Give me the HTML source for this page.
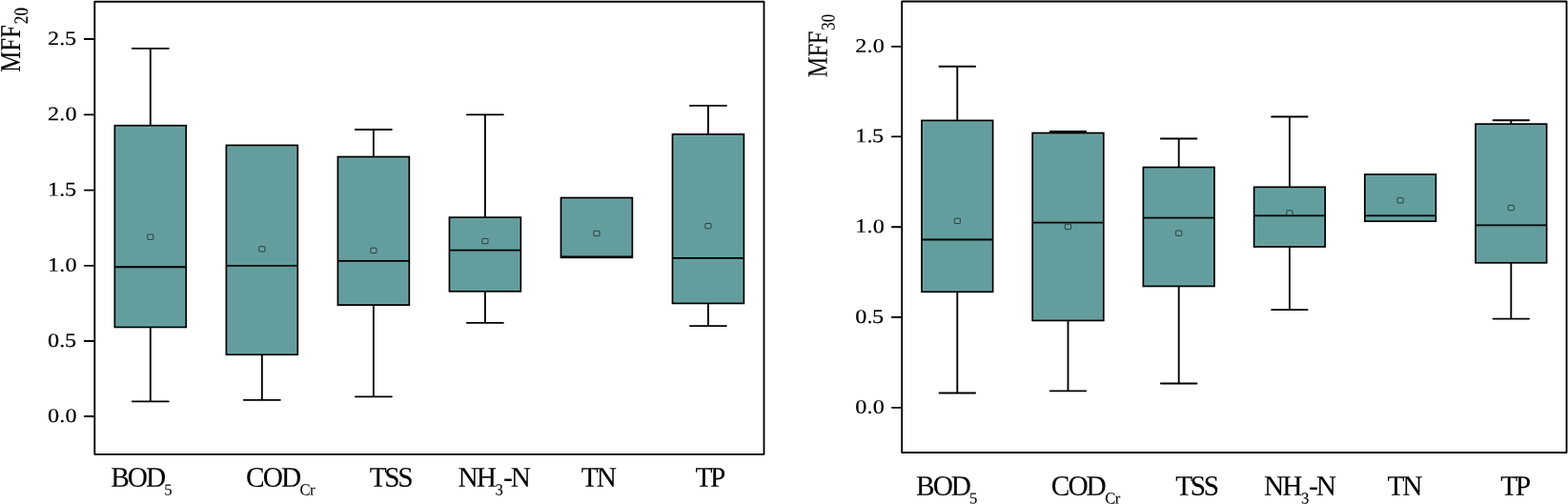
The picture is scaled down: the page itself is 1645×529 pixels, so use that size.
<!DOCTYPE html>
<html lang="en">
<head>
<meta charset="utf-8">
<title>MFF20 and MFF30 box plots</title>
<style>
html,body{margin:0;padding:0;background:#fff;overflow:hidden}
svg{display:block}
text{font-family:"Liberation Serif","DejaVu Serif",serif;fill:#000;stroke:#000}
.t{stroke-width:0.2px}
.l{stroke-width:0.1px}
</style>
</head>
<body>
<svg width="1645" height="529" viewBox="0 0 1645 529">
<rect width="1645" height="529" fill="#fff"/>
<rect x="99.3" y="1.7" width="702.2" height="475.1" fill="none" stroke="#000" stroke-width="1.85" stroke-linejoin="round"/>
<line x1="88.7" y1="41" x2="99.3" y2="41" stroke="#000" stroke-width="1.85" stroke-linecap="round"/>
<text class="t" transform="translate(51.07 46.9) rotate(0.1) scale(1.17 1)" x="-0.91 9.64 14.39" y="0" font-size="20.7">2.5</text>
<line x1="88.7" y1="120.4" x2="99.3" y2="120.4" stroke="#000" stroke-width="1.85" stroke-linecap="round"/>
<text class="t" transform="translate(51.04 126.3) rotate(0.1) scale(1.17 1)" x="-0.91 9.64 15.02" y="0" font-size="20.7">2.0</text>
<line x1="88.7" y1="199.6" x2="99.3" y2="199.6" stroke="#000" stroke-width="1.85" stroke-linecap="round"/>
<text class="t" transform="translate(52.13 205.5) rotate(0.1) scale(1.17 1)" x="-1.82 8.73 13.48" y="0" font-size="20.7">1.5</text>
<line x1="88.7" y1="278.8" x2="99.3" y2="278.8" stroke="#000" stroke-width="1.85" stroke-linecap="round"/>
<text class="t" transform="translate(52.11 284.7) rotate(0.1) scale(1.17 1)" x="-1.82 8.73 14.11" y="0" font-size="20.7">1.0</text>
<line x1="88.7" y1="358" x2="99.3" y2="358" stroke="#000" stroke-width="1.85" stroke-linecap="round"/>
<text class="t" transform="translate(50.93 363.9) rotate(0.1) scale(1.17 1)" x="-0.79 9.76 14.52" y="0" font-size="20.7">0.5</text>
<line x1="88.7" y1="437" x2="99.3" y2="437" stroke="#000" stroke-width="1.85" stroke-linecap="round"/>
<text class="t" transform="translate(50.9 442.9) rotate(0.1) scale(1.17 1)" x="-0.79 9.76 15.14" y="0" font-size="20.7">0.0</text>
<path d="M157.81 131.8V50.8M138.81 50.8H176.81" stroke="#000" stroke-width="1.85" stroke-linecap="round" fill="none"/>
<path d="M157.81 343.4V421.3M138.81 421.3H176.81" stroke="#000" stroke-width="1.85" stroke-linecap="round" fill="none"/>
<rect x="120.41" y="131.8" width="74.8" height="211.6" fill="#649d9d" stroke="#000" stroke-width="1.8"/>
<rect x="121.81" y="133.2" width="72" height="208.8" fill="none" stroke="#9fe0e0" stroke-opacity="0.22" stroke-width="1"/>
<line x1="120.41" y1="280.25" x2="195.22" y2="280.25" stroke="#000" stroke-width="1.8"/>
<rect x="154.76" y="246.05" width="6.1" height="5.3" rx="0.7" fill="#fff" fill-opacity="0.05" stroke="#0a1c1c" stroke-opacity="0.85" stroke-width="0.85"/>
<path d="M274.85 372.2V419.8M255.85 419.8H293.85" stroke="#000" stroke-width="1.85" stroke-linecap="round" fill="none"/>
<rect x="237.45" y="152.5" width="74.8" height="219.7" fill="#649d9d" stroke="#000" stroke-width="1.8"/>
<rect x="238.85" y="153.9" width="72" height="216.9" fill="none" stroke="#9fe0e0" stroke-opacity="0.22" stroke-width="1"/>
<line x1="237.45" y1="278.8" x2="312.25" y2="278.8" stroke="#000" stroke-width="1.8"/>
<rect x="271.8" y="258.75" width="6.1" height="5.3" rx="0.7" fill="#fff" fill-opacity="0.05" stroke="#0a1c1c" stroke-opacity="0.85" stroke-width="0.85"/>
<path d="M391.88 164.6V136M372.88 136H410.88" stroke="#000" stroke-width="1.85" stroke-linecap="round" fill="none"/>
<path d="M391.88 320.1V416.3M372.88 416.3H410.88" stroke="#000" stroke-width="1.85" stroke-linecap="round" fill="none"/>
<rect x="354.48" y="164.6" width="74.8" height="155.5" fill="#649d9d" stroke="#000" stroke-width="1.8"/>
<rect x="355.88" y="166" width="72" height="152.7" fill="none" stroke="#9fe0e0" stroke-opacity="0.22" stroke-width="1"/>
<line x1="354.48" y1="273.8" x2="429.27" y2="273.8" stroke="#000" stroke-width="1.8"/>
<rect x="388.82" y="260.25" width="6.1" height="5.3" rx="0.7" fill="#fff" fill-opacity="0.05" stroke="#0a1c1c" stroke-opacity="0.85" stroke-width="0.85"/>
<path d="M508.91 228.2V120.4M489.91 120.4H527.9" stroke="#000" stroke-width="1.85" stroke-linecap="round" fill="none"/>
<path d="M508.91 305.8V338.9M489.91 338.9H527.9" stroke="#000" stroke-width="1.85" stroke-linecap="round" fill="none"/>
<rect x="471.51" y="228.2" width="74.8" height="77.6" fill="#649d9d" stroke="#000" stroke-width="1.8"/>
<rect x="472.91" y="229.6" width="72" height="74.8" fill="none" stroke="#9fe0e0" stroke-opacity="0.22" stroke-width="1"/>
<line x1="471.51" y1="262.6" x2="546.31" y2="262.6" stroke="#000" stroke-width="1.8"/>
<rect x="505.86" y="250.45" width="6.1" height="5.3" rx="0.7" fill="#fff" fill-opacity="0.05" stroke="#0a1c1c" stroke-opacity="0.85" stroke-width="0.85"/>
<rect x="588.53" y="207.6" width="74.8" height="62.7" fill="#649d9d" stroke="#000" stroke-width="1.8"/>
<rect x="589.93" y="209" width="72" height="59.9" fill="none" stroke="#9fe0e0" stroke-opacity="0.22" stroke-width="1"/>
<line x1="588.53" y1="269.3" x2="663.33" y2="269.3" stroke="#000" stroke-width="1.8"/>
<rect x="622.88" y="242.35" width="6.1" height="5.3" rx="0.7" fill="#fff" fill-opacity="0.05" stroke="#0a1c1c" stroke-opacity="0.85" stroke-width="0.85"/>
<path d="M742.96 141V110.9M723.96 110.9H761.96" stroke="#000" stroke-width="1.85" stroke-linecap="round" fill="none"/>
<path d="M742.96 318.4V342.1M723.96 342.1H761.96" stroke="#000" stroke-width="1.85" stroke-linecap="round" fill="none"/>
<rect x="705.56" y="141" width="74.8" height="177.4" fill="#649d9d" stroke="#000" stroke-width="1.8"/>
<rect x="706.96" y="142.4" width="72" height="174.6" fill="none" stroke="#9fe0e0" stroke-opacity="0.22" stroke-width="1"/>
<line x1="705.56" y1="270.8" x2="780.36" y2="270.8" stroke="#000" stroke-width="1.8"/>
<rect x="739.91" y="234.55" width="6.1" height="5.3" rx="0.7" fill="#fff" fill-opacity="0.05" stroke="#0a1c1c" stroke-opacity="0.85" stroke-width="0.85"/>
<text class="l" transform="translate(117 510.7) rotate(0.1) scale(0.992 1.005)"><tspan x="-0.85 16.89 36.27" y="0" font-size="29.6">BOD</tspan><tspan x="55.68" y="8.76" font-size="16.8">5</tspan></text>
<text class="l" transform="translate(259.3 510.7) rotate(0.1) scale(0.992 1.005)"><tspan x="-1.21 16.53 35.91" y="0" font-size="29.6">COD</tspan><tspan x="55.61 66.21" y="8.76" font-size="16.8">Cr</tspan></text>
<text class="l" transform="translate(388.2 510.7) rotate(0.1) scale(0.992 1.005)"><tspan x="-0.53 15.25 29.41" y="0" font-size="29.6">TSS</tspan></text>
<text class="l" transform="translate(481.3 510.7) rotate(0.1) scale(0.992 1.005)"><tspan x="-0.85 18.52" y="0" font-size="29.6">NH</tspan><tspan x="38.43" y="8.76" font-size="16.8">3</tspan><tspan x="46.99 54.84" y="0" font-size="29.6">-N</tspan></text>
<text class="l" transform="translate(610.3 510.7) rotate(0.1) scale(0.992 1.005)"><tspan x="-0.53 15.55" y="0" font-size="29.6">TN</tspan></text>
<text class="l" transform="translate(730 510.7) rotate(0.1) scale(0.992 1.005)"><tspan x="-0.53 15.05" y="0" font-size="29.6">TP</tspan></text>
<text class="l" transform="translate(21 75) rotate(-90) translate(0 0) rotate(0.1) scale(0.838 1.02)"><tspan x="-0.85 25.47 41.93" y="0" font-size="29.6">MFF</tspan><tspan x="59.53 69.73" y="7.75" font-size="20.4">20</tspan></text>
<rect x="946.2" y="1.5" width="697.3" height="473.5" fill="none" stroke="#000" stroke-width="1.85" stroke-linejoin="round"/>
<line x1="935.9" y1="48.9" x2="946.2" y2="48.9" stroke="#000" stroke-width="1.85" stroke-linecap="round"/>
<text class="t" transform="translate(898.24 54.8) rotate(0.1) scale(1.17 1)" x="-0.91 9.64 15.02" y="0" font-size="20.7">2.0</text>
<line x1="935.9" y1="143.4" x2="946.2" y2="143.4" stroke="#000" stroke-width="1.85" stroke-linecap="round"/>
<text class="t" transform="translate(899.33 149.3) rotate(0.1) scale(1.17 1)" x="-1.82 8.73 13.48" y="0" font-size="20.7">1.5</text>
<line x1="935.9" y1="238.2" x2="946.2" y2="238.2" stroke="#000" stroke-width="1.85" stroke-linecap="round"/>
<text class="t" transform="translate(899.31 244.1) rotate(0.1) scale(1.17 1)" x="-1.82 8.73 14.11" y="0" font-size="20.7">1.0</text>
<line x1="935.9" y1="333" x2="946.2" y2="333" stroke="#000" stroke-width="1.85" stroke-linecap="round"/>
<text class="t" transform="translate(898.13 338.9) rotate(0.1) scale(1.17 1)" x="-0.79 9.76 14.52" y="0" font-size="20.7">0.5</text>
<line x1="935.9" y1="427.8" x2="946.2" y2="427.8" stroke="#000" stroke-width="1.85" stroke-linecap="round"/>
<text class="t" transform="translate(898.1 433.7) rotate(0.1) scale(1.17 1)" x="-0.79 9.76 15.14" y="0" font-size="20.7">0.0</text>
<path d="M1004.3 126.5V69.7M985.5 69.7H1023.1" stroke="#000" stroke-width="1.85" stroke-linecap="round" fill="none"/>
<path d="M1004.3 306.3V412.5M985.5 412.5H1023.1" stroke="#000" stroke-width="1.85" stroke-linecap="round" fill="none"/>
<rect x="967.05" y="126.5" width="74.5" height="179.8" fill="#649d9d" stroke="#000" stroke-width="1.8"/>
<rect x="968.45" y="127.9" width="71.7" height="177" fill="none" stroke="#9fe0e0" stroke-opacity="0.22" stroke-width="1"/>
<line x1="967.05" y1="251.5" x2="1041.55" y2="251.5" stroke="#000" stroke-width="1.8"/>
<rect x="1001.25" y="229.25" width="6.1" height="5.3" rx="0.7" fill="#fff" fill-opacity="0.05" stroke="#0a1c1c" stroke-opacity="0.85" stroke-width="0.85"/>
<path d="M1120.5 139.6V138M1101.7 138H1139.3" stroke="#000" stroke-width="1.85" stroke-linecap="round" fill="none"/>
<path d="M1120.5 336.4V410.3M1101.7 410.3H1139.3" stroke="#000" stroke-width="1.85" stroke-linecap="round" fill="none"/>
<rect x="1083.25" y="139.6" width="74.5" height="196.8" fill="#649d9d" stroke="#000" stroke-width="1.8"/>
<rect x="1084.65" y="141" width="71.7" height="194" fill="none" stroke="#9fe0e0" stroke-opacity="0.22" stroke-width="1"/>
<line x1="1083.25" y1="233.7" x2="1157.75" y2="233.7" stroke="#000" stroke-width="1.8"/>
<rect x="1117.45" y="235.25" width="6.1" height="5.3" rx="0.7" fill="#fff" fill-opacity="0.05" stroke="#0a1c1c" stroke-opacity="0.85" stroke-width="0.85"/>
<path d="M1236.7 175.6V145.5M1217.9 145.5H1255.5" stroke="#000" stroke-width="1.85" stroke-linecap="round" fill="none"/>
<path d="M1236.7 300.4V402.5M1217.9 402.5H1255.5" stroke="#000" stroke-width="1.85" stroke-linecap="round" fill="none"/>
<rect x="1199.45" y="175.6" width="74.5" height="124.8" fill="#649d9d" stroke="#000" stroke-width="1.8"/>
<rect x="1200.85" y="177" width="71.7" height="122" fill="none" stroke="#9fe0e0" stroke-opacity="0.22" stroke-width="1"/>
<line x1="1199.45" y1="228.7" x2="1273.95" y2="228.7" stroke="#000" stroke-width="1.8"/>
<rect x="1233.65" y="242.05" width="6.1" height="5.3" rx="0.7" fill="#fff" fill-opacity="0.05" stroke="#0a1c1c" stroke-opacity="0.85" stroke-width="0.85"/>
<path d="M1352.9 196.4V122.5M1334.1 122.5H1371.7" stroke="#000" stroke-width="1.85" stroke-linecap="round" fill="none"/>
<path d="M1352.9 259V325.1M1334.1 325.1H1371.7" stroke="#000" stroke-width="1.85" stroke-linecap="round" fill="none"/>
<rect x="1315.65" y="196.4" width="74.5" height="62.6" fill="#649d9d" stroke="#000" stroke-width="1.8"/>
<rect x="1317.05" y="197.8" width="71.7" height="59.8" fill="none" stroke="#9fe0e0" stroke-opacity="0.22" stroke-width="1"/>
<line x1="1315.65" y1="226.4" x2="1390.15" y2="226.4" stroke="#000" stroke-width="1.8"/>
<rect x="1349.85" y="220.95" width="6.1" height="5.3" rx="0.7" fill="#fff" fill-opacity="0.05" stroke="#0a1c1c" stroke-opacity="0.85" stroke-width="0.85"/>
<rect x="1431.85" y="183.1" width="74.5" height="49.1" fill="#649d9d" stroke="#000" stroke-width="1.8"/>
<rect x="1433.25" y="184.5" width="71.7" height="46.3" fill="none" stroke="#9fe0e0" stroke-opacity="0.22" stroke-width="1"/>
<line x1="1431.85" y1="226.4" x2="1506.35" y2="226.4" stroke="#000" stroke-width="1.8"/>
<rect x="1466.05" y="207.65" width="6.1" height="5.3" rx="0.7" fill="#fff" fill-opacity="0.05" stroke="#0a1c1c" stroke-opacity="0.85" stroke-width="0.85"/>
<path d="M1585.3 130.2V126.2M1566.5 126.2H1604.1" stroke="#000" stroke-width="1.85" stroke-linecap="round" fill="none"/>
<path d="M1585.3 275.8V334.6M1566.5 334.6H1604.1" stroke="#000" stroke-width="1.85" stroke-linecap="round" fill="none"/>
<rect x="1548.05" y="130.2" width="74.5" height="145.6" fill="#649d9d" stroke="#000" stroke-width="1.8"/>
<rect x="1549.45" y="131.6" width="71.7" height="142.8" fill="none" stroke="#9fe0e0" stroke-opacity="0.22" stroke-width="1"/>
<line x1="1548.05" y1="236.4" x2="1622.55" y2="236.4" stroke="#000" stroke-width="1.8"/>
<rect x="1582.25" y="215.45" width="6.1" height="5.3" rx="0.7" fill="#fff" fill-opacity="0.05" stroke="#0a1c1c" stroke-opacity="0.85" stroke-width="0.85"/>
<text class="l" transform="translate(961.9 519.7) rotate(0.1) scale(0.992 1.005)"><tspan x="-0.85 16.89 36.27" y="0" font-size="29.6">BOD</tspan><tspan x="55.68" y="8.76" font-size="16.8">5</tspan></text>
<text class="l" transform="translate(1104 519.7) rotate(0.1) scale(0.992 1.005)"><tspan x="-1.21 16.53 35.91" y="0" font-size="29.6">COD</tspan><tspan x="55.61 66.21" y="8.76" font-size="16.8">Cr</tspan></text>
<text class="l" transform="translate(1233.7 519.7) rotate(0.1) scale(0.992 1.005)"><tspan x="-0.53 15.25 29.41" y="0" font-size="29.6">TSS</tspan></text>
<text class="l" transform="translate(1326.9 519.7) rotate(0.1) scale(0.992 1.005)"><tspan x="-0.85 18.52" y="0" font-size="29.6">NH</tspan><tspan x="38.43" y="8.76" font-size="16.8">3</tspan><tspan x="46.38 54.24" y="0" font-size="29.6">-N</tspan></text>
<text class="l" transform="translate(1455.9 519.7) rotate(0.1) scale(0.992 1.005)"><tspan x="-0.53 15.55" y="0" font-size="29.6">TN</tspan></text>
<text class="l" transform="translate(1574.8 519.7) rotate(0.1) scale(0.992 1.005)"><tspan x="-0.53 15.05" y="0" font-size="29.6">TP</tspan></text>
<text class="l" transform="translate(867.6 80.5) rotate(-90) translate(0 0) rotate(0.1) scale(0.82 1)"><tspan x="-0.85 25.47 41.93" y="0" font-size="29.6">MFF</tspan><tspan x="59.52 69.72" y="7.9" font-size="20.4">30</tspan></text>
</svg>
</body>
</html>
